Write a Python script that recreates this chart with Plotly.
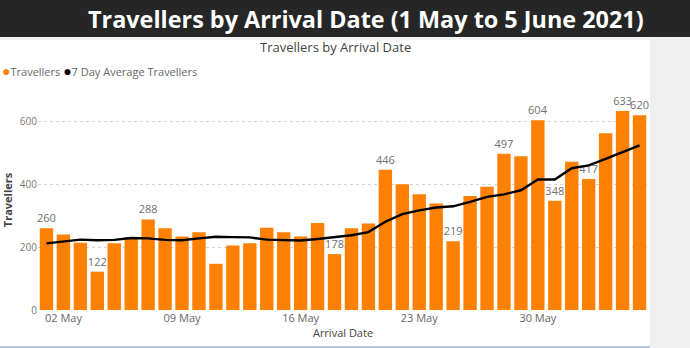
import plotly.graph_objects as go
import pandas as pd

# ---- data ----
dates = pd.date_range("2021-05-01", "2021-06-05", freq="D")
travellers = [260, 240, 214, 122, 212, 232, 288, 260, 234, 247, 147, 205, 212, 262,
              247, 234, 277, 178, 260, 275, 446, 400, 368, 339, 219, 363, 392, 497,
              489, 604, 348, 472, 417, 562, 633, 620]
avg7 = [212, 217, 224, 222, 223, 229, 228, 223, 222, 228, 233, 232, 231, 224,
        222, 221, 226, 232, 238, 248, 281, 305, 317, 326, 330, 344, 360, 368,
        381, 415, 415, 451, 460, 481, 503, 524]
labelled_idx = [0, 3, 6, 17, 20, 24, 27, 29, 30, 32, 34, 35]
tick_dates = ["2021-05-02", "2021-05-09", "2021-05-16", "2021-05-23", "2021-05-30"]
tick_text = ["02 May", "09 May", "16 May", "23 May", "30 May"]

bar_text = ["" for _ in travellers]
for i in labelled_idx:
    bar_text[i] = str(travellers[i])

ORANGE = "#FE8104"
FONT = "Segoe UI, Open Sans, sans-serif"

W, H = 690, 348
ML, MR, MT, MB = 38, 42, 90, 38
PW, PH = W - ML - MR, H - MT - MB


def px(x):
    return (x - ML) / PW


def py(y):
    return (H - MB - y) / PH


fig = go.Figure()
fig.add_trace(go.Bar(
    x=dates, y=travellers, marker=dict(color=ORANGE, line=dict(width=0)),
    text=bar_text, textposition="outside", cliponaxis=False, constraintext="none",
    textangle=0,
    textfont=dict(size=11, color="#707070", family=FONT),
    showlegend=False, name="Travellers",
))
fig.add_trace(go.Scatter(
    x=dates, y=avg7, mode="lines", line=dict(color="black", width=2.4),
    showlegend=False, name="7 Day Average Travellers",
))

shapes = [
    dict(type="rect", xref="paper", yref="paper", x0=px(0), x1=px(650), y0=py(348), y1=py(37),
         fillcolor="white", line=dict(width=0), layer="below"),
    dict(type="rect", xref="paper", yref="paper", x0=px(0), x1=px(650), y0=py(40), y1=py(37),
         fillcolor="#f3f3f3", line=dict(width=0), layer="below"),
    dict(type="rect", xref="paper", yref="paper", x0=px(0), x1=px(690), y0=py(37), y1=py(0),
         fillcolor="#262626", line=dict(width=0), layer="below"),
    dict(type="line", xref="paper", yref="paper", x0=px(0), x1=px(650), y0=py(347), y1=py(347),
         line=dict(color="#b4c7e0", width=2), layer="below"),
]

annotations = [
    dict(text="<b>Travellers by Arrival Date (1 May to 5 June 2021)</b>", xref="paper", yref="paper",
         x=px(366), y=py(19), xanchor="center", yanchor="middle", showarrow=False,
         font=dict(size=23.4, color="white", family="Open Sans, sans-serif")),
    dict(text="Travellers by Arrival Date", xref="paper", yref="paper",
         x=px(335), y=py(47), xanchor="center", yanchor="middle", showarrow=False,
         font=dict(size=13, color="#444444", family=FONT)),
    dict(text=("<span style='color:%s;font-size:14px'>●</span>Travellers "
               "<span style='color:black;font-size:14px'>●</span>7 Day Average Travellers") % ORANGE,
         xref="paper", yref="paper", x=px(0), y=py(71), xanchor="left", yanchor="middle",
         showarrow=False, font=dict(size=11, color="#666666", family=FONT)),
]

fig.update_layout(
    width=W, height=H, margin=dict(l=ML, r=MR, t=MT, b=MB, autoexpand=False),
    paper_bgcolor="#f0f0f0", plot_bgcolor="rgba(0,0,0,0)",
    bargap=0.21, shapes=shapes, annotations=annotations, showlegend=False,
    font=dict(family=FONT, color="#666666"),
    xaxis=dict(type="date", range=["2021-04-30 12:00", "2021-06-05 12:00"],
               tickvals=tick_dates, ticktext=tick_text, showgrid=False, zeroline=False,
               showline=False, ticks="", tickfont=dict(size=11, color="#666666"),
               title=dict(text="Arrival Date", font=dict(size=11, color="#444444"), standoff=2)),
    yaxis=dict(range=[0, 700], tickvals=[0, 200, 400, 600], showgrid=True,
               gridcolor="#d5d5d5", griddash="dot", gridwidth=1, zeroline=False,
               showline=False, ticks="", tickfont=dict(size=10, color="#777777"),
               title=dict(text="<b>Travellers</b>", font=dict(size=11, color="#444444"), standoff=8)),
)

fig.write_html("out.html")
